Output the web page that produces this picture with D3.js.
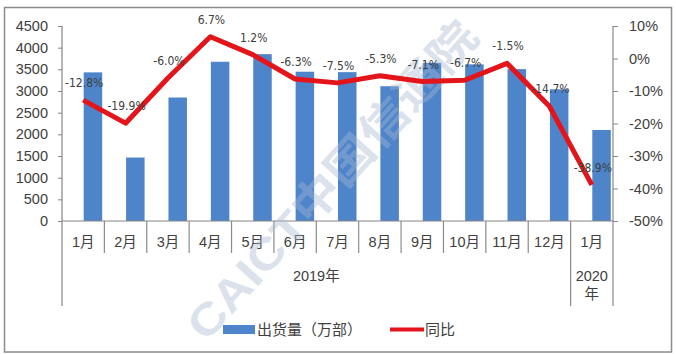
<!DOCTYPE html>
<html>
<head>
<meta charset="utf-8">
<script src="https://cdn.jsdelivr.net/npm/d3@7"></script>
<style>
  body { margin: 0; background: #fff; }
  svg text { font-family: "Liberation Sans", "Noto Sans CJK SC", sans-serif; fill: #404040; }
</style>
</head>
<body>
<div id="chart"></div>
<script>
var months = ["1月", "2月", "3月", "4月", "5月", "6月", "7月", "8月", "9月", "10月", "11月", "12月", "1月"];
var keys = d3.range(months.length);
var shipments = [3430, 1465, 2850, 3675, 3850, 3445, 3435, 3110, 3650, 3615, 3505, 3040, 2100];
var yoy = [-12.8, -19.9, -6.0, 6.7, 1.2, -6.3, -7.5, -5.3, -7.1, -6.7, -1.5, -14.7, -38.9];
var years = [{label: ["2019年"], from: 0, to: 12}, {label: ["2020", "年"], from: 12, to: 13}];
var leftTicks = d3.range(0, 4501, 500);
var rightTicks = d3.range(-50, 11, 10);
var legendNames = ["出货量（万部）", "同比"];

var width = 676, height = 354;
var plotL = 62, plotR = 613, plotT = 26, plotB = 221;

var svg = d3.select("#chart").append("svg")
    .attr("width", width)
    .attr("height", height);

svg.append("rect")
    .attr("x", 4.5).attr("y", 7.5)
    .attr("width", 667).attr("height", 344.5)
    .attr("fill", "#fff")
    .attr("stroke", "#8c8c8c")
    .attr("stroke-width", 1.5);

var x = d3.scaleBand()
    .domain(keys)
    .range([plotL, plotR]);

var y = d3.scaleLinear()
    .domain([0, 4500])
    .range([plotB, plotT]);

var y2 = d3.scaleLinear()
    .domain([-50, 10])
    .range([plotB, plotT]);

function cx(i) { return x(i) + x.bandwidth() / 2; }

// bars
svg.append("g")
    .selectAll("rect")
    .data(shipments)
    .enter().append("rect")
    .attr("x", function(d, i) { return cx(i) + 0.5; })
    .attr("width", 18.5)
    .attr("y", function(d) { return y(d); })
    .attr("height", function(d) { return plotB - y(d); })
    .attr("fill", "#4e84ca");

// axes
var yAxis = d3.axisLeft(y).tickValues(leftTicks).tickSize(4).tickPadding(10).tickFormat(d3.format("d"));
var gy = svg.append("g")
    .attr("transform", "translate(" + plotL + ",0)")
    .call(yAxis);
gy.select(".domain").remove();
gy.selectAll("line").attr("stroke", "#868686");
gy.selectAll("text").attr("font-size", "14.5px").attr("fill", "#404040");

var y2Axis = d3.axisRight(y2).tickValues(rightTicks).tickSize(5).tickPadding(11)
    .tickFormat(function(d) { return d + "%"; });
var gy2 = svg.append("g")
    .attr("transform", "translate(" + plotR + ",0)")
    .call(y2Axis);
gy2.select(".domain").remove();
gy2.selectAll("line").attr("stroke", "#868686");
gy2.selectAll("text").attr("font-size", "14.5px").attr("fill", "#404040");

svg.append("line")
    .attr("x1", plotL).attr("x2", plotR)
    .attr("y1", plotB).attr("y2", plotB)
    .attr("stroke", "#868686").attr("stroke-width", 1.2);

[plotL, plotR].forEach(function(px) {
    svg.append("line")
        .attr("x1", px).attr("x2", px)
        .attr("y1", plotT).attr("y2", 306)
        .attr("stroke", "#868686").attr("stroke-width", 1.2);
});

// category separators
var seps = svg.append("g").attr("stroke", "#8c8c8c").attr("stroke-width", 1.2);
keys.slice(1).forEach(function(i) {
    var isYear = years.some(function(yr) { return yr.from === i; });
    seps.append("line")
        .attr("x1", x(i)).attr("x2", x(i))
        .attr("y1", plotB).attr("y2", isYear ? 306 : 253);
});

svg.append("g")
    .selectAll("text")
    .data(months)
    .enter().append("text")
    .attr("x", function(d, i) { return cx(i); })
    .attr("y", 247)
    .attr("text-anchor", "middle")
    .attr("font-size", "14.5px")
    .text(function(d) { return d; });

years.forEach(function(yr) {
    var mx = (x(yr.from) + (yr.to < months.length ? x(yr.to) : plotR)) / 2;
    yr.label.forEach(function(t, j) {
        svg.append("text")
            .attr("x", mx)
            .attr("y", 281 + j * 18)
            .attr("text-anchor", "middle")
            .attr("font-size", "14.5px")
            .text(t);
    });
});

// watermark
svg.append("text")
    .attr("transform", "translate(335,183) rotate(-48)")
    .attr("text-anchor", "middle")
    .attr("dominant-baseline", "middle")
    .attr("font-size", "44px")
    .attr("font-weight", "bold")
    .attr("textLength", 410)
    .attr("lengthAdjust", "spacingAndGlyphs")
    .style("fill", "#a9b9d2")
    .style("opacity", 0.4)
    .text("CAICT中国信通院");

// line
var line = d3.line()
    .x(function(d, i) { return cx(i); })
    .y(function(d) { return y2(d); });

svg.append("path")
    .datum(yoy)
    .attr("d", line)
    .attr("fill", "none")
    .attr("stroke", "#e3151b")
    .attr("stroke-width", 5)
    .attr("stroke-linejoin", "round");

svg.append("g")
    .selectAll("text")
    .data(yoy)
    .enter().append("text")
    .attr("x", function(d, i) { return cx(i) + 1; })
    .attr("y", function(d) { return y2(d) - 13; })
    .attr("text-anchor", "middle")
    .attr("font-size", "12px")
    .style("font-family", "'Liberation Sans Narrow', 'DejaVu Sans Condensed', sans-serif")
    .text(function(d) { return d.toFixed(1) + "%"; });

// legend
svg.append("rect")
    .attr("x", 223).attr("y", 325)
    .attr("width", 32).attr("height", 9)
    .attr("fill", "#4e84ca");
svg.append("text")
    .attr("x", 257).attr("y", 335)
    .attr("font-size", "15px")
    .text(legendNames[0]);
svg.append("line")
    .attr("x1", 390).attr("x2", 424)
    .attr("y1", 329.5).attr("y2", 329.5)
    .attr("stroke", "#e3151b").attr("stroke-width", 4);
svg.append("text")
    .attr("x", 425).attr("y", 335)
    .attr("font-size", "15px")
    .text(legendNames[1]);
</script>
</body>
</html>
